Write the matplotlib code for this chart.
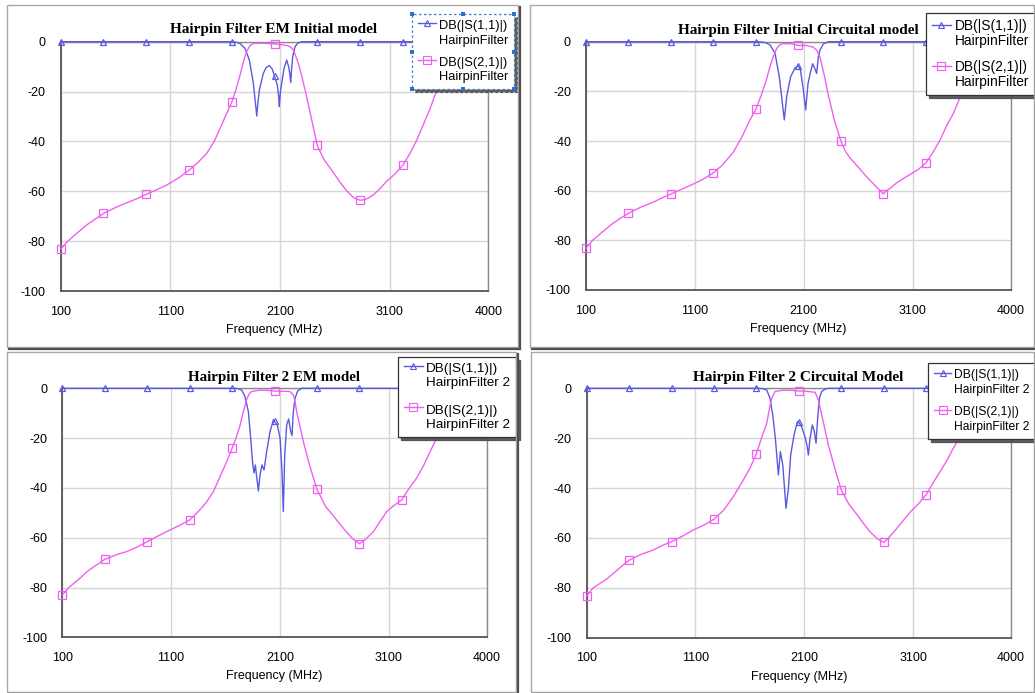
import numpy as np
import matplotlib
matplotlib.use("Agg")
import matplotlib.pyplot as plt
from matplotlib.lines import Line2D
from matplotlib.legend_handler import HandlerLine2D
from matplotlib.patches import Rectangle

# ---------------- data ----------------
marker_freq = [100, 490, 880, 1270, 1660, 2050, 2440, 2830, 3220, 3610, 4000]
x_ticks = [100, 1100, 2100, 3100, 4000]
y_ticks = [0, -20, -40, -60, -80, -100]

titles = ["Hairpin Filter EM Initial model",
          "Hairpin Filter Initial Circuital model",
          "Hairpin Filter 2 EM model",
          "Hairpin Filter 2 Circuital Model"]
trace_names = ["HairpinFilter", "HairpinFilter", "HairpinFilter 2", "HairpinFilter 2"]
s11_label = "DB(|S(1,1)|)"
s21_label = "DB(|S(2,1)|)"

# Panel 1: EM initial
p1_s11_f = [100, 490, 880, 1270, 1660, 1700, 1735, 1781, 1821, 1857, 1875, 1888, 1900, 1912,
            1948, 1975, 2003, 2030, 2050, 2076, 2088, 2094, 2104, 2115, 2137, 2161, 2179,
            2190, 2198, 2206, 2216, 2237, 2267, 2300, 2440, 2830, 3220, 3610, 4000]
p1_s11_db = [0, 0, 0, 0, 0, -0.2, -0.7, -2.7, -7.4, -16.7, -24, -29.8, -24, -19.4,
             -12.7, -10.3, -9.6, -11, -13.8, -17.4, -22, -26, -20, -16.7, -10.7, -7.4, -10,
             -13, -16.4, -11, -6, -2, -0.4, 0, 0, 0, 0, 0, 0]
p1_s21_f = [100, 160, 246, 337, 420, 490, 600, 702, 800, 880, 970, 1067, 1170, 1270, 1350,
            1432, 1500, 1553, 1600, 1660, 1700, 1735, 1770, 1796, 1827, 1860, 1950, 2050,
            2120, 2170, 2200, 2225, 2245, 2270, 2300, 2340, 2390, 2440, 2500, 2587, 2650,
            2708, 2770, 2830, 2880, 2951, 3010, 3073, 3150, 3220, 3290, 3347, 3410, 3468,
            3530, 3610, 3700, 3800, 4000]
p1_s21_db = [-83.3, -80.2, -76.9, -73.5, -71, -68.9, -66.5, -64.6, -62.9, -61.2, -59.5, -57.5,
             -54.8, -51.6, -48.5, -44.8, -40, -34.8, -30.2, -24.3, -19, -13.5, -7.5, -4, -1.5,
             -0.7, -0.6, -0.9, -1.2, -1.6, -2.2, -3.5, -6, -9, -14, -21.5, -31.5, -41.6, -47.2,
             -52.5, -56.5, -59.8, -62.5, -63.6, -63.3, -61.5, -59, -56, -53, -49.6, -44.5,
             -39.5, -33, -27, -19.5, -10, -4, -1.5, -1]

# Panel 2: circuit initial
p2_s11_f = [100, 490, 880, 1270, 1660, 1710, 1750, 1790, 1836, 1875, 1900, 1921, 1943, 1980,
            2020, 2050, 2070, 2096, 2117, 2139, 2163, 2181, 2200, 2218, 2234, 2249, 2279,
            2325, 2440, 2830, 3220, 3610, 4000]
p2_s11_db = [0, 0, 0, 0, 0, -0.1, -0.4, -1.3, -4.7, -14.1, -23.5, -31.5, -22, -14,
             -10.5, -9.7, -11.5, -19.5, -27.5, -16.8, -12, -8.9, -10.7, -12.8, -6, -3.4, -0.9,
             0, 0, 0, 0, 0, 0]
p2_s21_f = [100, 160, 246, 337, 420, 490, 600, 718, 800, 880, 970, 1086, 1180, 1270, 1350,
            1453, 1530, 1606, 1660, 1710, 1759, 1790, 1820, 1850, 1880, 1910, 1980, 2050,
            2120, 2188, 2220, 2250, 2275, 2300, 2325, 2380, 2440, 2480, 2524, 2600, 2677,
            2760, 2830, 2860, 2900, 2953, 3010, 3075, 3150, 3220, 3280, 3351, 3410, 3473,
            3550, 3610, 3700, 3800, 4000]
p2_s21_db = [-83.2, -80, -76.8, -73.5, -71, -69.1, -66.7, -64.6, -62.9, -61.3, -59.6, -57.3,
             -55.3, -52.8, -49.8, -44.5, -38.5, -31.5, -27.2, -21.5, -15, -10, -6, -2.8, -1.2,
             -0.8, -0.8, -1.5, -1.5, -2.2, -3.5, -6.5, -11, -16, -21.5, -31.5, -39.9, -44,
             -46.8, -50.5, -54.4, -58.2, -61.3, -60, -58.8, -56.8, -55.2, -53.5, -51.5, -48.9,
             -45, -39.6, -34, -28.9, -20.8, -12, -5, -2, -1.5]

# Panel 3: filter 2 EM
p3_s11_f = [100, 490, 880, 1270, 1660, 1710, 1748, 1779, 1810, 1831, 1849, 1862, 1874, 1886,
            1902, 1917, 1935, 1954, 1978, 2009, 2040, 2050, 2076, 2101, 2119, 2131, 2144,
            2162, 2180, 2199, 2211, 2223, 2239, 2263, 2300, 2440, 2830, 3220, 3610, 4000]
p3_s11_db = [0, 0, 0, 0, 0, -0.1, -0.7, -3.3, -9.4, -20, -30, -34, -30.8, -35.5,
             -41.2, -34.8, -30.8, -32.8, -25.4, -17.4, -12.6, -13.3, -14.7, -20, -33.5, -49.5,
             -26.8, -14.7, -12.3, -17.4, -19, -9.4, -4, -1, 0, 0, 0, 0, 0, 0]
p3_s21_f = [100, 160, 246, 337, 420, 490, 600, 691, 790, 880, 980, 1090, 1180, 1270, 1350,
            1420, 1488, 1550, 1610, 1660, 1700, 1733, 1760, 1794, 1820, 1840, 1900, 1980,
            2050, 2120, 2193, 2223, 2240, 2254, 2280, 2315, 2370, 2440, 2520, 2591, 2650,
            2714, 2770, 2830, 2870, 2959, 3020, 3081, 3150, 3220, 3290, 3357, 3420, 3480,
            3525, 3610, 3700, 3800, 4000]
p3_s21_db = [-83, -80, -76.9, -73.3, -70.8, -68.7, -66.8, -65.6, -63.7, -61.6, -59.3, -56.9,
             -55, -52.9, -49.5, -46, -41.5, -35.5, -29.5, -24.1, -19.5, -15, -10, -4.5, -2,
             -1.3, -0.8, -0.8, -1.1, -1.2, -1.3, -2.7, -5.5, -9.4, -14.5, -21.4, -30.5, -40.6,
             -47.5, -51.2, -54.5, -57.8, -60.5, -62.4, -61.3, -57.6, -53.5, -49.5, -47,
             -44.8, -40, -36, -31, -25.4, -21.4, -12, -5, -2, -1.2]

# Panel 4: filter 2 circuit
p4_s11_f = [100, 490, 880, 1270, 1660, 1715, 1755, 1785, 1810, 1834, 1862, 1880, 1902, 1932,
            1954, 1975, 2006, 2036, 2050, 2076, 2107, 2125, 2138, 2153, 2174, 2193, 2208,
            2223, 2239, 2260, 2291, 2321, 2440, 2830, 3220, 3610, 4000]
p4_s11_db = [0, 0, 0, 0, 0, -0.1, -0.7, -4, -10.7, -20, -34.8, -25.4, -30.7, -48.1,
             -40.1, -26.7, -18.7, -13.4, -13.6, -15.5, -19.5, -23, -26.7, -20, -14.7, -17.4,
             -22, -12, -4, -1.3, -0.3, 0, 0, 0, 0, 0, 0]
p4_s21_f = [100, 160, 284, 390, 490, 600, 713, 800, 880, 980, 1080, 1180, 1270, 1360, 1448,
            1530, 1601, 1660, 1710, 1755, 1780, 1801, 1831, 1900, 1980, 2050, 2120, 2199,
            2230, 2260, 2290, 2321, 2380, 2440, 2510, 2582, 2640, 2704, 2770, 2830, 2870,
            2950, 3010, 3072, 3150, 3220, 3290, 3348, 3410, 3470, 3532, 3610, 3700, 3800, 4000]
p4_s21_db = [-83.3, -80, -76.5, -72.5, -68.9, -66.6, -64.8, -62.9, -61.5, -59.3, -56.8, -54.8,
             -52.5, -48.8, -43.4, -37.5, -32, -26.2, -19.5, -14, -8, -4, -1.3, -0.8, -0.8,
             -1.1, -1.2, -1.6, -4.7, -10.7, -16.5, -22.7, -32, -40.8, -46.5, -50.5, -54,
             -57.5, -60.3, -61.8, -60.2, -56.2, -53, -49.7, -46.3, -42.6, -37.5, -33.4, -29,
             -24, -19.4, -12, -5, -2, -1.2]

panels = [(p1_s11_f, p1_s11_db, p1_s21_f, p1_s21_db),
          (p2_s11_f, p2_s11_db, p2_s21_f, p2_s21_db),
          (p3_s11_f, p3_s11_db, p3_s21_f, p3_s21_db),
          (p4_s11_f, p4_s11_db, p4_s21_f, p4_s21_db)]

# ---------------- layout / style ----------------
W, H = 1035, 693
BLUE = "#5a5ae0"
PINK = "#f060f0"
SANS = "Liberation Sans"
SERIF = "Liberation Serif"

axes_px = [(60.7, 41.7, 488.3, 291.0), (586.0, 41.7, 1010.7, 290.0),
           (62.3, 388.3, 486.7, 637.3), (586.7, 388.3, 1011.0, 637.7)]
title_px = [(274, 28), (798, 29), (274, 376), (798, 376)]
title_fs = [10.95, 11.0, 10.85, 11.0]
legend_px = [(412, 14), (926, 13), (398, 357), (928, 363)]
legend_fs = [9.3, 9.9, 9.7, 8.7]
legend_ls = [0.78, 0.85, 1.15, 0.85]
legend_linesp = [1.3, 1.12, 1.22, 1.3]
legend_bp = [0.45, 0.42, 0.45, 0.5]
frames_px = [(7, 5, 518, 347), (530, 5, 1034, 347), (7, 352, 516, 692), (531, 352, 1034, 692)]

fig = plt.figure(figsize=(W / 100, H / 100), dpi=100)
fig.patch.set_facecolor("white")


def fig_rect(x0, y0, x1, y1, **kw):
    return Rectangle((x0 / W, 1 - y1 / H), (x1 - x0) / W, (y1 - y0) / H,
                     transform=fig.transFigure, **kw)


def fig_line(xs, ys, **kw):
    return Line2D([x / W for x in xs], [1 - y / H for y in ys], transform=fig.transFigure, **kw)


# panel frames with a dark shadow at right/bottom
for (x0, y0, x1, y1) in frames_px:
    fig.add_artist(fig_rect(x0, y0, x1, y1, fill=False, edgecolor="#a8a8a8", lw=1.0))
    fig.add_artist(fig_line([x0 + 2, x1 + 2], [y1 + 1.5, y1 + 1.5], color="#505050", lw=1.6))
    fig.add_artist(fig_line([x1 + 1.5, x1 + 1.5], [y0 + 2, y1 + 2], color="#505050", lw=1.6))


class UpHandler(HandlerLine2D):
    def __init__(self, shift, **kw):
        super().__init__(**kw)
        self.shift = shift

    def create_artists(self, legend, orig_handle, xdescent, ydescent, width, height,
                       fontsize, trans):
        arts = super().create_artists(legend, orig_handle, xdescent, ydescent, width,
                                      height, fontsize, trans)
        for a in arts:
            if isinstance(a, Line2D):
                a.set_ydata(np.asarray(a.get_ydata(), dtype=float) + self.shift)
        return arts


legends = []
for i, (s11f, s11d, s21f, s21d) in enumerate(panels):
    x0, y0, x1, y1 = axes_px[i]
    ax = fig.add_axes([x0 / W, 1 - y1 / H, (x1 - x0) / W, (y1 - y0) / H])
    ax.set_xlim(100, 4000)
    ax.set_ylim(-100, 0)
    ax.set_xticks(x_ticks)
    ax.set_yticks(y_ticks)
    ax.set_xticklabels([str(t) for t in x_ticks], fontfamily=SANS, fontsize=9)
    ax.set_yticklabels([str(t) for t in y_ticks], fontfamily=SANS, fontsize=9)
    ax.tick_params(length=0, colors="black")
    ax.tick_params(axis="y", pad=10.8)
    ax.tick_params(axis="x", pad=10.5)
    ax.grid(True, color="#d6d6d6", lw=1.0)
    ax.set_axisbelow(True)
    for side in ("left", "bottom"):
        ax.spines[side].set_color("#555555")
        ax.spines[side].set_linewidth(1.3)
    for side in ("top", "right"):
        ax.spines[side].set_color("#8a8a8a")
        ax.spines[side].set_linewidth(1.0)
    ax.set_xlabel("Frequency (MHz)", fontfamily=SANS, fontsize=9, labelpad=4.5)

    mk11 = [k for k, f in enumerate(s11f) if f in marker_freq]
    mk21 = [k for k, f in enumerate(s21f) if f in marker_freq]
    ax.plot(s11f, s11d, color=BLUE, lw=1.0, marker="^", ms=5.0, mfc="none", mec=BLUE,
            mew=0.9, markevery=mk11, clip_on=False, zorder=3)
    ax.plot(s21f, s21d, color=PINK, lw=1.0, marker="s", ms=6.2, mfc="none", mec=PINK,
            mew=0.9, markevery=mk21, clip_on=False, zorder=4)

    cx, cy = title_px[i]
    fig.text(cx / W, 1 - (cy + 1.5) / H, titles[i], ha="center", va="center",
             fontfamily=SERIF, fontweight="bold", fontsize=title_fs[i])

    fs = legend_fs[i]
    h11 = Line2D([], [], color=BLUE, lw=1.0, marker="^", ms=4.5, mfc="none", mec=BLUE, mew=0.8)
    h21 = Line2D([], [], color=PINK, lw=1.0, marker="s", ms=5.5, mfc="none", mec=PINK, mew=0.8)
    lx, ly = legend_px[i]
    leg = ax.legend(handles=[h11, h21],
                    labels=[s11_label + "\n" + trace_names[i], s21_label + "\n" + trace_names[i]],
                    handler_map={Line2D: UpHandler(fs * 0.8 * legend_linesp[i] / 1.3)},
                    loc="upper left", bbox_to_anchor=(lx / W, 1 - ly / H),
                    bbox_transform=fig.transFigure, borderaxespad=0,
                    prop={"family": SANS, "size": fs}, numpoints=1,
                    handlelength=1.4, handletextpad=0.25, borderpad=legend_bp[i],
                    labelspacing=legend_ls[i], fancybox=False, framealpha=1,
                    edgecolor="#333333",
                    shadow={"ox": 2.2, "oy": -2.2, "shade": 0.7, "alpha": 0.9})
    for t in leg.get_texts():
        t.set_linespacing(legend_linesp[i])
    leg.get_frame().set_linewidth(0.9)
    leg.set_zorder(10)
    if i == 0:
        leg.get_frame().set_edgecolor("#4a7cc8")
        leg.get_frame().set_linestyle((0, (2, 2)))
    legends.append(leg)

# selection handles on the first legend
fig.canvas.draw()
bb = legends[0].get_window_extent()
hs = 4.0
for hx in (bb.x0, (bb.x0 + bb.x1) / 2, bb.x1):
    for hy in (bb.y0, (bb.y0 + bb.y1) / 2, bb.y1):
        if hx == (bb.x0 + bb.x1) / 2 and hy == (bb.y0 + bb.y1) / 2:
            continue
        fig.add_artist(Rectangle(((hx - hs / 2) / W, (hy - hs / 2) / H), hs / W, hs / H,
                                 transform=fig.transFigure, facecolor="#2a6fd6",
                                 edgecolor="none", zorder=20))

fig.savefig("out.png", dpi=100, facecolor="white")
